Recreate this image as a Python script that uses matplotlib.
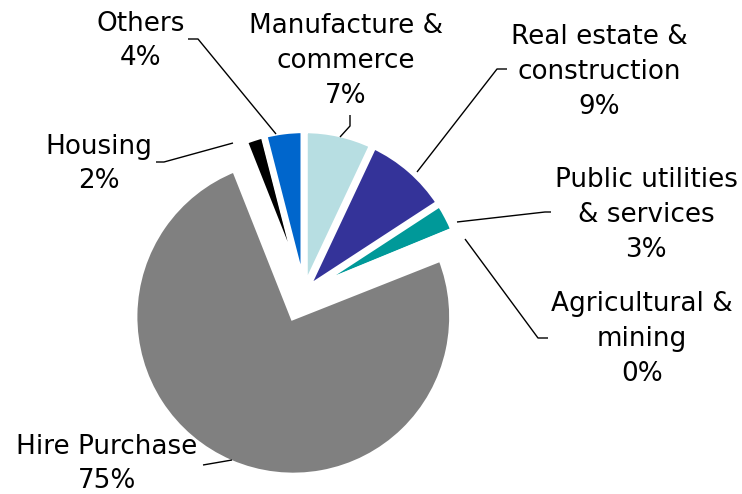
import matplotlib
matplotlib.use("Agg")
import matplotlib.pyplot as plt

# loan book by sector, clockwise from 12 o'clock
sectors = [
    "Manufacture &\ncommerce",
    "Real estate &\nconstruction",
    "Public utilities\n& services",
    "Agricultural &\nmining",
    "Hire Purchase",
    "Housing",
    "Others",
]
shares = [7.0, 8.8, 3.0, 0.2, 75.0, 2.0, 4.0]
colors = ["#B7DEE2", "#343399", "#009999", "#8EB4E3", "#808080", "#000000", "#0066CC"]
# pie explode is in data units, here pixels
explode = [3, 3, 3, 3, 27, 3, 3]

W, H = 742, 494


def py(y):
    # pixel row (from top) -> axis y
    return H - y


fig = plt.figure(figsize=(W / 100, H / 100), dpi=100)
ax = fig.add_axes([0, 0, 1, 1])

ax.pie(
    shares,
    colors=colors,
    explode=explode,
    startangle=90,
    counterclock=False,
    center=(304, py(292)),
    radius=159,
    wedgeprops=dict(edgecolor="white", linewidth=4.5),
)

ax.set_xlim(0, W)
ax.set_ylim(0, H)
ax.set_aspect("equal")
ax.axis("off")

total = sum(shares)
pct = [f"{round(v / total * 100)}%" for v in shares]

# label anchors (text centre) and leader line vertices
label_pos = [
    (346, 61),
    (599, 72),
    (646, 215),
    (642, 339),
    (107, 464),
    (99, 164),
    (141, 41),
]
leaders = [
    [(350, 115), (350, 126), (340, 137)],
    [(507, 69), (497, 69), (417, 172)],
    [(551, 212), (545, 212), (457, 222)],
    [(548, 338), (538, 338), (465, 239)],
    [(203, 465), (232, 460)],
    [(156, 162), (164, 162), (233, 143)],
    [(188, 39), (198, 39), (276, 134)],
]

for name, p, (x, y), line in zip(sectors, pct, label_pos, leaders):
    ax.text(x, py(y), f"{name}\n{p}", ha="center", va="center",
            fontsize=18.9, family="DejaVu Sans", linespacing=1.43, color="black")
    xs = [pt[0] for pt in line]
    ys = [py(pt[1]) for pt in line]
    ax.plot(xs, ys, color="black", linewidth=1.0, solid_capstyle="butt")

fig.savefig("out.png", dpi=100, facecolor="white")
